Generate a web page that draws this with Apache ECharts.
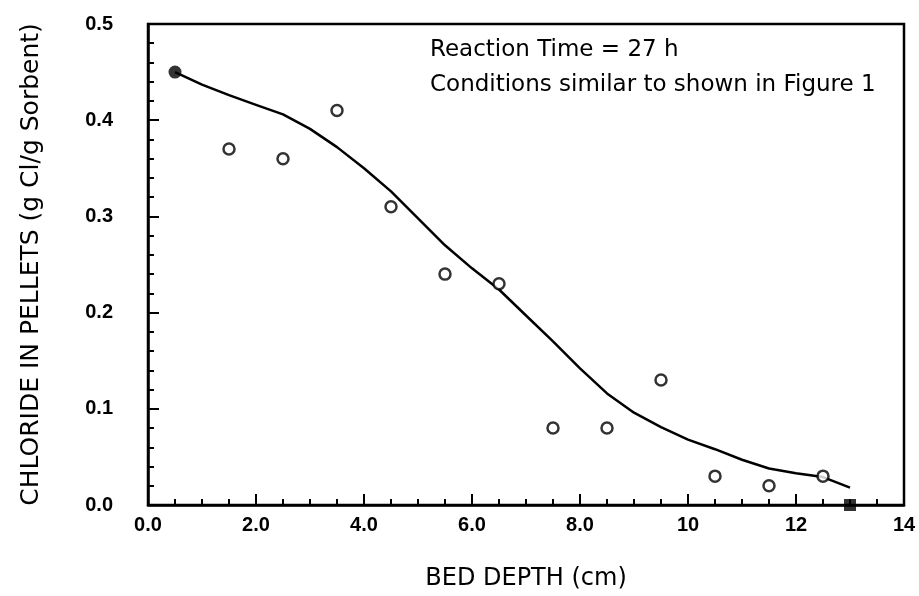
<!DOCTYPE html>
<html>
<head>
<meta charset="utf-8">
<script src="https://cdn.jsdelivr.net/npm/echarts@6/dist/echarts.min.js"></script>
<style>
html,body{margin:0;padding:0;background:#fff;}
#chart{width:919px;height:596px;}
</style>
</head>
<body>
<div id="chart"></div>
<script>
// Measured points (open circles)
const openDepth = [1.5, 2.5, 3.5, 4.5, 5.5, 6.5, 7.5, 8.5, 9.5, 10.5, 11.5, 12.5];
const openChloride = [0.37, 0.36, 0.41, 0.31, 0.24, 0.23, 0.08, 0.08, 0.13, 0.03, 0.02, 0.03];
// Filled circle point
const filledCircleDepth = [0.5];
const filledCircleChloride = [0.45];
// Filled square point
const filledSquareDepth = [13.0];
const filledSquareChloride = [0.0];
// Model curve
const curveDepth = [0.5, 1.0, 1.5, 2.0, 2.5, 3.0, 3.5, 4.0, 4.5, 5.0, 5.5, 6.0, 6.5, 7.0, 7.5, 8.0, 8.5, 9.0, 9.5, 10.0, 10.5, 11.0, 11.5, 12.0, 12.5, 13.0];
const curveChloride = [0.450, 0.437, 0.426, 0.416, 0.406, 0.391, 0.372, 0.350, 0.326, 0.298, 0.270, 0.246, 0.224, 0.197, 0.170, 0.142, 0.116, 0.096, 0.081, 0.068, 0.058, 0.047, 0.038, 0.033, 0.029, 0.018];
// Annotation text
const noteLines = ['Reaction Time = 27 h', 'Conditions similar to shown in Figure 1'];
const xAxisTitle = 'BED DEPTH (cm)';
const yAxisTitle = 'CHLORIDE IN PELLETS (g Cl/g Sorbent)';

const zip = (a, b) => a.map((v, i) => [v, b[i]]);
const FONT = "'Liberation Sans', Arial, sans-serif";
const WIDE = "'DejaVu Sans', sans-serif";

const chart = echarts.init(document.getElementById('chart'), null, {renderer: 'canvas'});
chart.setOption({
  animation: false,
  backgroundColor: '#fff',
  grid: {left: 148, right: 15, top: 24, bottom: 89, show: true, borderColor: '#000', borderWidth: 2.5, backgroundColor: 'transparent'},
  xAxis: {
    type: 'value', min: 0, max: 14, interval: 2,
    name: xAxisTitle, nameLocation: 'middle', nameGap: 62,
    nameTextStyle: {fontFamily: WIDE, fontSize: 24, color: '#000'},
    axisLine: {show: true, lineStyle: {color: '#000', width: 2.5}},
    axisTick: {show: true, inside: true, length: 11, lineStyle: {color: '#000', width: 2}},
    minorTick: {show: true, splitNumber: 4, length: 6, lineStyle: {color: '#000', width: 2}},
    splitLine: {show: false},
    axisLabel: {margin: 10, fontFamily: FONT, fontSize: 20, fontWeight: 'bold', color: '#000',
      formatter: v => (v < 10 ? v.toFixed(1) : String(v))}
  },
  yAxis: {
    type: 'value', min: 0, max: 0.5, interval: 0.1,
    name: yAxisTitle, nameLocation: 'middle', nameGap: 104, nameRotate: 90,
    nameTextStyle: {fontFamily: WIDE, fontSize: 25, color: '#000'},
    axisLine: {show: true, lineStyle: {color: '#000', width: 2.5}},
    axisTick: {show: true, inside: true, length: 11, lineStyle: {color: '#000', width: 2}},
    minorTick: {show: true, splitNumber: 5, length: 6, lineStyle: {color: '#000', width: 2}},
    splitLine: {show: false},
    axisLabel: {margin: 35, fontFamily: FONT, fontSize: 20, fontWeight: 'bold', color: '#000',
      formatter: v => v.toFixed(1)}
  },
  graphic: [{
    type: 'text', left: 430, top: 33,
    style: {text: noteLines.join('\n'), fontFamily: WIDE, fontSize: 23, lineHeight: 35, fill: '#000'}
  }],
  series: [
    {
      type: 'line', data: zip(curveDepth, curveChloride), showSymbol: false, symbol: 'none',
      lineStyle: {color: '#000', width: 2.5}, smooth: false, clip: false, z: 2
    },
    {
      type: 'scatter', data: zip(openDepth, openChloride), symbol: 'circle', symbolSize: 11,
      itemStyle: {color: '#fff', borderColor: '#000', borderWidth: 2.5}, clip: false, z: 3
    },
    {
      type: 'scatter', data: zip(filledCircleDepth, filledCircleChloride), symbol: 'circle', symbolSize: 13,
      itemStyle: {color: '#000'}, clip: false, z: 3
    },
    {
      type: 'scatter', data: zip(filledSquareDepth, filledSquareChloride), symbol: 'rect', symbolSize: 12,
      itemStyle: {color: '#000'}, clip: false, z: 3
    }
  ]
});
</script>
</body>
</html>
